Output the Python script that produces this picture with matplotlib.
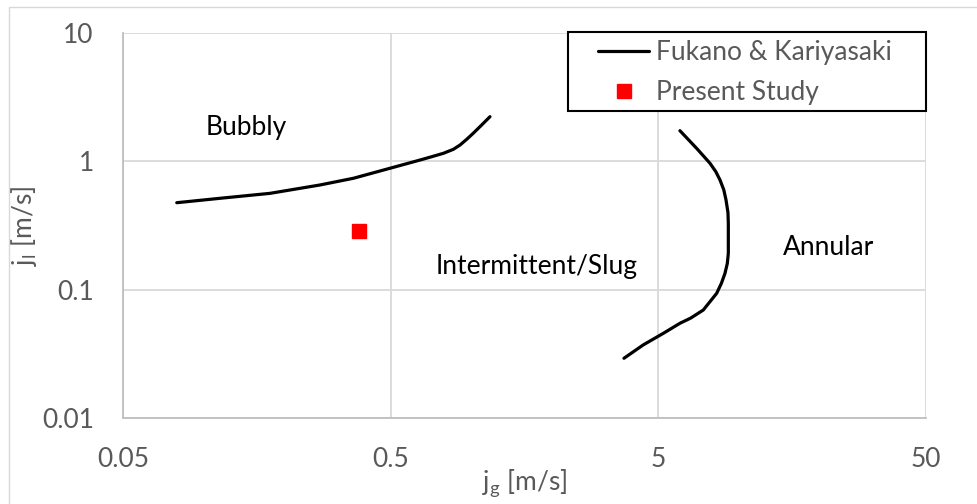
import matplotlib
matplotlib.use("Agg")
import matplotlib.pyplot as plt
from matplotlib.patches import Rectangle

# Fukano & Kariyasaki transition boundaries (j_g, j_l in m/s)
bubbly_jg = [0.0794, 0.115, 0.177, 0.272, 0.363, 0.497, 0.644, 0.711, 0.787, 0.857,
             0.908, 0.96, 1.017, 1.094, 1.175]
bubbly_jl = [0.476, 0.515, 0.563, 0.654, 0.738, 0.883, 1.024, 1.086, 1.155, 1.24,
             1.34, 1.48, 1.653, 1.92, 2.228]

annular_jg = [6.02, 6.95, 7.80, 8.20, 8.50, 8.78, 8.95, 9.10, 9.13, 9.13, 9.05, 8.87,
              8.60, 8.26, 7.36, 6.60, 6.02, 5.22, 4.39, 3.72]
annular_jl = [1.733, 1.263, 0.965, 0.83, 0.715, 0.60, 0.500, 0.40, 0.329, 0.192, 0.16,
              0.134, 0.112, 0.0937, 0.0694, 0.060, 0.0547, 0.0457, 0.0371, 0.0292]

# Present study measurement
study_jg = [0.381]
study_jl = [0.288]

x_ticks = [0.05, 0.5, 5, 50]
x_tick_labels = ["0.05", "0.5", "5", "50"]
y_ticks = [0.01, 0.1, 1, 10]
y_tick_labels = ["0.01", "0.1", "1", "10"]

plt.rcParams["font.family"] = ["Lato", "DejaVu Sans"]
grey_txt = "#595959"
grid_c = "#d9d9d9"
FS = 19

W, H = 977, 504
fig = plt.figure(figsize=(W / 100, H / 100), dpi=100)


def fx(px):
    return px / W


def fy(py):
    return 1 - py / H


# chart-area border
fig.patches.append(Rectangle((fx(9), -0.1), 1.2, fy(7) + 0.1,
                             transform=fig.transFigure, fill=False,
                             edgecolor=grid_c, linewidth=1.0))
ax = fig.add_axes([fx(123), fy(418), fx(926) - fx(123), fy(33) - fy(418)])

ax.plot(bubbly_jg, bubbly_jl, color="black", lw=2.3, solid_capstyle="round",
        solid_joinstyle="round", label="Fukano & Kariyasaki")
ax.plot(annular_jg, annular_jl, color="black", lw=2.3, solid_capstyle="round",
        solid_joinstyle="round")
ax.plot(study_jg, study_jl, ls="none", marker="s", ms=10, color="#ff0000",
        label="Present Study")

ax.set_xscale("log")
ax.set_yscale("log")
ax.set_xlim(0.05, 50)
ax.set_ylim(0.01, 10)
ax.set_xticks(x_ticks)
ax.set_xticklabels(x_tick_labels)
ax.set_yticks(y_ticks)
ax.set_yticklabels(y_tick_labels)
ax.minorticks_off()
ax.tick_params(length=0, labelsize=FS, colors=grey_txt)
ax.tick_params(axis="y", pad=21)
ax.tick_params(axis="x", pad=21)
ax.grid(True, color=grid_c, lw=1.3)
ax.set_axisbelow(True)
for side in ["top", "right"]:
    ax.spines[side].set_visible(False)
for side in ["left", "bottom"]:
    ax.spines[side].set_color("#bfbfbf")
    ax.spines[side].set_linewidth(1.3)

ax.set_xlabel(r"j$_\mathregular{g}$ [m/s]", fontsize=FS, color=grey_txt, labelpad=-4)
ax.set_ylabel(r"j$_\mathregular{l}$ [m/s]", fontsize=FS, color=grey_txt, labelpad=2)

ax.text(0.144, 1.83, "Bubbly", fontsize=FS, ha="center", va="center")
ax.text(1.753, 0.151, "Intermittent/Slug", fontsize=FS, ha="center", va="center")
ax.text(21.7, 0.215, "Annular", fontsize=FS, ha="center", va="center")

# legend box
ax.add_patch(Rectangle((fx(568), fy(111)), fx(926) - fx(568), fy(32) - fy(111),
                       transform=fig.transFigure, facecolor="white",
                       edgecolor="black", linewidth=1.5, zorder=4.5, clip_on=False))
leg = ax.legend(loc="upper left", bbox_to_anchor=(fx(598), fy(40)),
                bbox_transform=fig.transFigure, fontsize=FS, frameon=False,
                labelcolor=grey_txt, handlelength=1.95, handletextpad=0.25,
                borderpad=0, labelspacing=0.58, borderaxespad=0)
leg.set_zorder(6)

fig.savefig("out.png", dpi=100)
